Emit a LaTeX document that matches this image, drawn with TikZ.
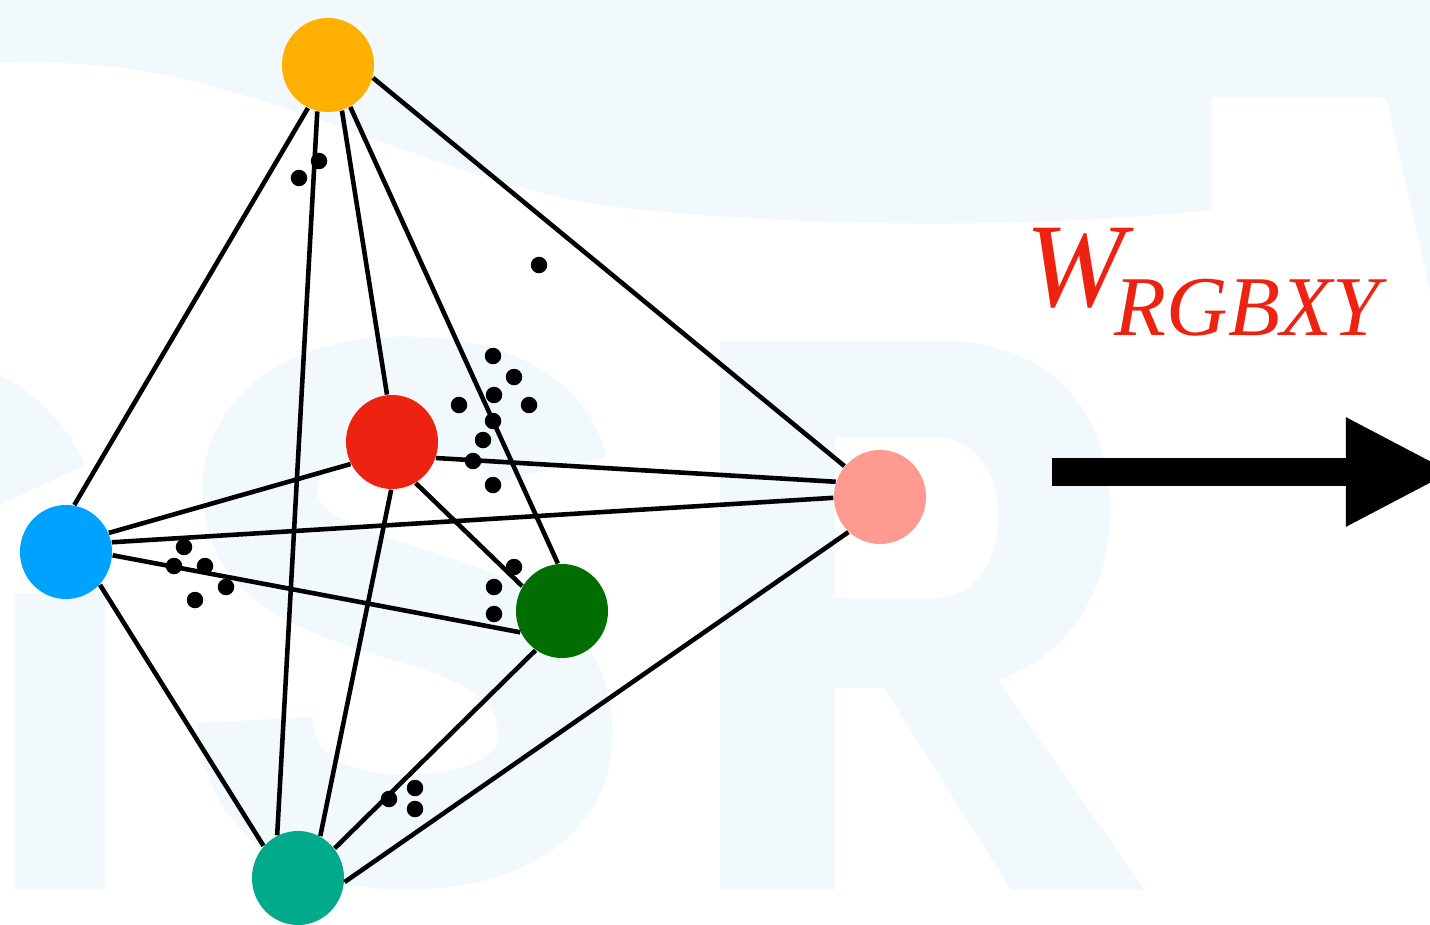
\documentclass[tikz,border=0pt]{standalone}
\usepackage{fontspec}
\newfontfamily\tms{Liberation Serif}
\usetikzlibrary{shapes.geometric,arrows.meta}
\definecolor{wmk}{HTML}{F2F9FD}
\definecolor{cyel}{HTML}{FFB000}
\definecolor{cred}{HTML}{EE2211}
\definecolor{cblu}{HTML}{00A2FF}
\definecolor{cpnk}{HTML}{FF9A90}
\definecolor{cgrn}{HTML}{006E00}
\definecolor{ctea}{HTML}{00AA8A}
\tikzset{%
    vtx/.style={ellipse, minimum width=0.92cm, minimum height=0.94cm, inner sep=0pt},
    edg/.style={line width=1.3pt},
    dot/.style={circle, fill=black, minimum size=0.165cm, inner sep=0pt},
    bar/.style={line width=0.27cm, -{Triangle[length=1.07cm, width=1.01cm]}},
}

\begin{document}
\begin{tikzpicture}[x=0.01cm, y=-0.01cm]
    \useasboundingbox (0,0) rectangle (1430,924);
    \clip (0,0) rectangle (1430,924);
    \fill[wmk] (0,0) -- (1430,0) -- (1430,290) -- (1386,97) -- (1212,97) -- (1212,210) .. controls (1000,232) and (760,225) .. (600,205) .. controls (450,180) and (300,100) .. (150,72) .. controls (90,62) and (40,62) .. (0,63) -- cycle;
    \fill[wmk, even odd rule] (720,341) -- (940,341) .. controls (1060,341) and (1110,420) .. (1110,510) .. controls (1110,600) and (1060,660) .. (998,680) -- (1145,890) -- (1011,890) -- (884,688) -- (835,688) -- (835,890) -- (720,890) -- cycle (835,437) -- (930,437) .. controls (975,437) and (998,470) .. (998,517) .. controls (998,565) and (975,598) .. (930,598) -- (835,598) -- cycle;
    \draw[wmk, line width=1.15cm] (550,470) .. controls (540,420) and (480,394) .. (405,394) .. controls (320,394) and (260,430) .. (260,490) .. controls (260,560) and (330,580) .. (410,605) .. controls (500,632) and (555,660) .. (555,735) .. controls (555,800) and (490,832) .. (405,832) .. controls (320,832) and (258,795) .. (255,720);
    \fill[wmk] (15,593) rectangle (105,890);
    \fill[wmk] (0,375) .. controls (40,395) and (70,430) .. (85,465) -- (0,505) -- cycle;

    \node[vtx, fill=cyel] (yel) at (328,65) {};
    \node[vtx, fill=cred] (red) at (392,442) {};
    \node[vtx, fill=cblu] (blu) at (66,552) {};
    \node[vtx, fill=cpnk] (pnk) at (880,497) {};
    \node[vtx, fill=cgrn] (grn) at (562,611) {};
    \node[vtx, fill=ctea] (tea) at (298,878) {};

    \foreach \a/\b in {yel.245/blu.80, yel.257/tea.116, yel.287/red.96, yel.298/grn.95, yel.344/pnk.139,
        red.208/blu.24, red.340/pnk.161, red.300/grn.148, red.269/tea.62, blu.12/pnk.181,
        blu.356/grn.207, blu.316/tea.137, grn.236/tea.39, pnk.228/tea.355}
        \draw[edg] (\a) -- (\b);

    \foreach \p [count=\i] in {(319,161),(299,178),(539,265),(493,356),(514,377),(494,395),(459,405),(529,405),
        (493,421),(483,440),(473,461),(493,485),(184,547),(174,566),(205,566),(226,587),(195,600),
        (514,567),(494,587),(494,614),(389,799),(415,788),(415,809)}
        \node[dot] (d\i) at \p {};

    \node[anchor=base west, inner sep=0pt, text=cred] (wl) at (1025,306) {\tms\itshape\fontsize{34}{40}\selectfont W\kern-3pt\raisebox{-8.4pt}{\fontsize{24.2}{28}\selectfont RGBXY}};

    \coordinate (as) at (1052,472);
    \coordinate (ae) at (1453,472);
    \draw[bar] (as) -- (ae);
\end{tikzpicture}
\end{document}
